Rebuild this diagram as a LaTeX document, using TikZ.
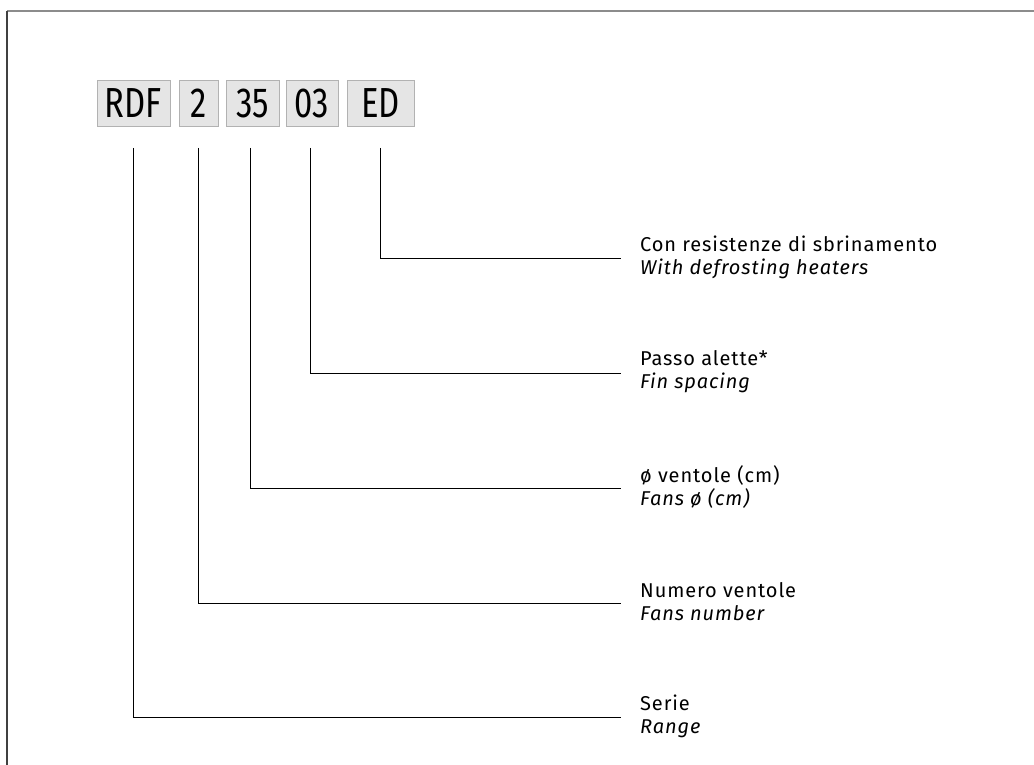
\documentclass[tikz,border=0pt]{standalone}
\usepackage{fontspec}
\setmainfont[LetterSpace=4.5]{Fira Sans}
\newfontfamily\boxfont[FakeStretch=0.78]{Fira Sans}
\begin{document}
\begin{tikzpicture}[x=1pt,y=-1pt,
  codebox/.style={draw=black!30,fill=black!10,line width=0.8pt,minimum height=46pt,inner sep=0pt,font=\boxfont\fontsize{42}{42}\selectfont},
  lead/.style={line width=0.9pt,black},
  lbl/.style={anchor=west,align=left,inner sep=0pt,font=\fontsize{20}{23}\selectfont}]
\useasboundingbox (0,0) rectangle (1034,765);
\draw[black!45,line width=1.5pt] (7,11) -- (1034,11);
\draw[black!75,line width=1.5pt] (7,11) -- (7,765);
% code boxes
\node[codebox,minimum width=73pt] (rdf) at (133.5,103) {RDF};
\node[codebox,minimum width=39pt] (n2) at (198.5,103) {2};
\node[codebox,minimum width=53pt] (n35) at (252.5,103) {35};
\node[codebox,minimum width=52pt] (n03) at (312,103) {03};
\node[codebox,minimum width=67pt] (ned) at (380.5,103) {ED};
% tick tops
\coordinate (trdf) at (133,148);
\coordinate (t2) at (198,148);
\coordinate (t35) at (250,148);
\coordinate (t03) at (310,148);
\coordinate (ted) at (380,148);
% line ends
\coordinate (eed) at (621,258);
\coordinate (e03) at (621,373);
\coordinate (e35) at (621,488);
\coordinate (e2) at (621,603);
\coordinate (erdf) at (621,717);
\draw[lead] (ted) |- (eed);
\draw[lead] (t03) |- (e03);
\draw[lead] (t35) |- (e35);
\draw[lead] (t2) |- (e2);
\draw[lead] (trdf) |- (erdf);
% labels
\node[lbl] (led) at (640,257) {Con resistenze di sbrinamento\\\textit{With defrosting heaters}};
\node[lbl] (l03) at (640,372) {Passo alette*\\\textit{Fin spacing}};
\node[lbl] (l35) at (640,487) {ø ventole (cm)\\\textit{Fans ø (cm)}};
\node[lbl] (l2) at (640,602) {Numero ventole\\\textit{Fans number}};
\node[lbl] (lrdf) at (640,716) {Serie\\\textit{Range}};
\end{tikzpicture}
\end{document}
